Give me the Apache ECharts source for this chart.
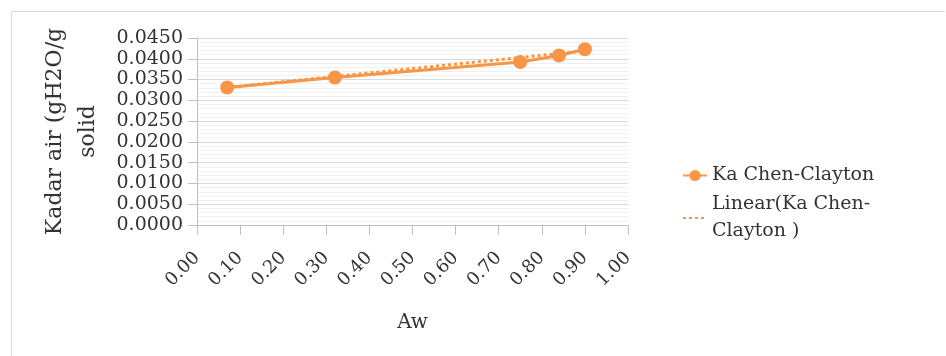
<!DOCTYPE html>
<html>
<head>
<meta charset="utf-8">
<script src="https://cdn.jsdelivr.net/npm/echarts@6/dist/echarts.min.js"></script>
<style>
html,body{margin:0;padding:0;background:#fff;}
#c{width:946px;height:356px;}
</style>
</head>
<body>
<div id="c"></div>
<script>
// Data
const aw = [0.07, 0.32, 0.75, 0.84, 0.90];
const kaChenClayton = [0.0331, 0.0355, 0.0392, 0.0408, 0.0423];
const trendAw = [0.07, 0.90];
const trendKa = [0.0331, 0.0419];
const seriesNames = ['Ka Chen-Clayton', 'Linear(Ka Chen-Clayton )'];
const yAxisTitle = 'Kadar air (gH2O/g\nsolid';
const xAxisTitle = 'Aw';

const FONT = 'DejaVu Serif';
const ORANGE = '#F79646';
const TXT = '#333333';

const chart = echarts.init(document.getElementById('c'), null, {renderer: 'canvas'});
chart.setOption({
  backgroundColor: '#fff',
  animation: false,
  textStyle: {fontFamily: FONT},
  grid: {left: 197, top: 38, width: 431, height: 187, containLabel: false},
  xAxis: {
    type: 'value', min: 0, max: 1, interval: 0.1,
    name: xAxisTitle, nameLocation: 'middle', nameGap: 88,
    nameTextStyle: {fontFamily: FONT, fontSize: 20, color: TXT},
    axisLine: {show: true, lineStyle: {color: '#BFBFBF', width: 1}},
    axisTick: {show: true, length: 10, inside: false, lineStyle: {color: '#BFBFBF'}},
    axisLabel: {rotate: 45, fontFamily: FONT, fontSize: 18, color: TXT, margin: 30,
      formatter: v => v.toFixed(2)},
    splitLine: {show: false}
  },
  yAxis: {
    type: 'value', min: 0, max: 0.045, interval: 0.005,
    name: yAxisTitle, nameLocation: 'middle', nameGap: 92, nameRotate: 90,
    nameTextStyle: {fontFamily: FONT, fontSize: 22, color: TXT, lineHeight: 33, align: 'center'},
    axisLine: {show: true, lineStyle: {color: '#BFBFBF', width: 1}},
    axisTick: {show: true, length: 9, lineStyle: {color: '#BFBFBF'}},
    axisLabel: {fontFamily: FONT, fontSize: 19, color: TXT, margin: 14,
      formatter: v => v.toFixed(4)},
    splitLine: {show: true, lineStyle: {color: '#D9D9D9', width: 1}},
    minorTick: {show: false, splitNumber: 5},
    minorSplitLine: {show: true, lineStyle: {color: '#F0F0F0', width: 1}}
  },
  legend: {
    orient: 'vertical', left: 677, top: 157, itemGap: 2,
    itemWidth: 24, itemHeight: 14,
    textStyle: {fontFamily: FONT, fontSize: 19, color: TXT, lineHeight: 27},
    formatter: n => n === seriesNames[1] ? 'Linear(Ka Chen-\nClayton )' : n,
    data: [
      {name: seriesNames[0]},
      {name: seriesNames[1], itemStyle: {opacity: 0}}
    ]
  },
  graphic: [
    {type: 'line', shape: {x1: 11, y1: 11.5, x2: 945, y2: 11.5}, style: {stroke: '#D9D9D9', lineWidth: 1}},
    {type: 'line', shape: {x1: 11.5, y1: 11, x2: 11.5, y2: 356}, style: {stroke: '#D9D9D9', lineWidth: 1}}
  ],
  series: [
    {
      name: seriesNames[0], type: 'line',
      data: aw.map((x, i) => [x, kaChenClayton[i]]),
      symbol: 'circle', symbolSize: 14,
      itemStyle: {color: ORANGE},
      lineStyle: {color: ORANGE, width: 3},
      z: 3
    },
    {
      name: seriesNames[1], type: 'line',
      data: trendAw.map((x, i) => [x, trendKa[i]]),
      symbol: 'none',
      itemStyle: {color: ORANGE},
      lineStyle: {color: ORANGE, width: 3, type: [3, 3]},
      z: 4
    }
  ]
});
</script>
</body>
</html>
